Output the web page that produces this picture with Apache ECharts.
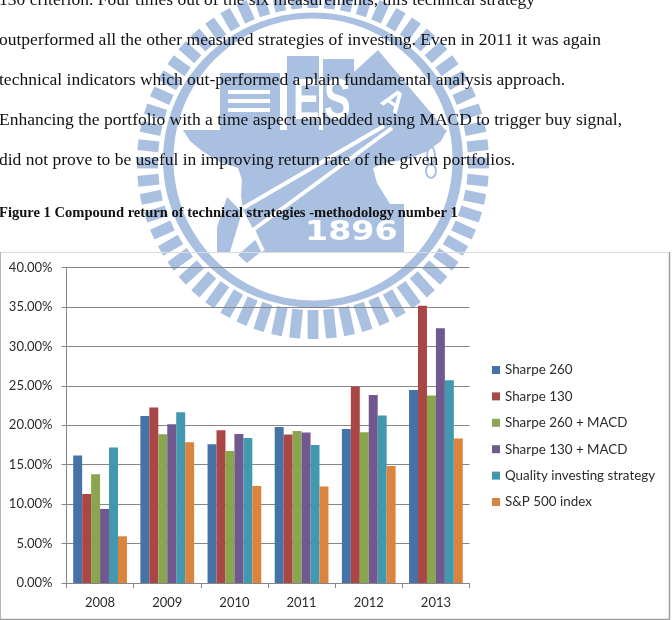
<!DOCTYPE html>
<html>
<head>
<meta charset="utf-8">
<style>html,body{margin:0;padding:0;background:#fff}#chart{width:672px;height:620px}</style>
<script src="https://cdn.jsdelivr.net/npm/echarts@6/dist/echarts.min.js"></script>
</head>
<body>
<div id="chart"></div>
<script>
// Compound return per year, in percent
const years = ['2008', '2009', '2010', '2011', '2012', '2013'];
const sharpe260 = [16.15, 21.18, 17.59, 19.79, 19.53, 24.48];
const sharpe130 = [11.29, 22.24, 19.37, 18.82, 24.90, 35.14];
const sharpe260Macd = [13.78, 18.86, 16.74, 19.28, 19.11, 23.76];
const sharpe130Macd = [9.39, 20.13, 18.90, 19.07, 23.85, 32.30];
const qualityInvesting = [17.17, 21.65, 18.39, 17.50, 21.23, 25.71];
const sp500 = [5.92, 17.84, 12.30, 12.22, 14.84, 18.31];

const seriesList = [
  ['Sharpe 260', sharpe260, '#4572A7'],
  ['Sharpe 130', sharpe130, '#AA4643'],
  ['Sharpe 260 + MACD', sharpe260Macd, '#89A54E'],
  ['Sharpe 130 + MACD', sharpe130Macd, '#71588F'],
  ['Quality investing strategy', qualityInvesting, '#4198AF'],
  ['S&P 500 index', sp500, '#DB843D']
];

const paragraph = [
  '130 criterion. Four times out of the six measurements, this technical strategy',
  'outperformed all the other measured strategies of investing. Even in 2011 it was again',
  'technical indicators which out-performed a plain fundamental analysis approach.',
  'Enhancing the portfolio with a time aspect embedded using MACD to trigger buy signal,',
  'did not prove to be useful in improving return rate of the given portfolios.'
];
const caption = 'Figure 1 Compound return of technical strategies -methodology number 1';

const SEAL = '#A9C0E1';
const cx = 313, cy = 163;

function poly(points, fill, z) {
  return { type: 'polygon', z: z, silent: true, shape: { points: points }, style: { fill: fill } };
}
function stripe(x1, y1, x2, y2, w) {
  return { type: 'line', z: -8, silent: true, shape: { x1, y1, x2, y2 }, style: { stroke: '#fff', lineWidth: w } };
}
function sealText(text, x, y, size, family, sx, sy, rot, fill) {
  return {
    type: 'text', z: -7, silent: true, x: x, y: y, scaleX: sx, scaleY: sy, rotation: rot || 0,
    style: { text: text, x: 0, y: 0, fill: fill || '#fff', font: 'bold ' + size + 'px ' + family, textAlign: 'left', textVerticalAlign: 'middle' }
  };
}

// University seal that sits behind the page
function seal() {
  const out = [];
  const teeth = 60;
  for (let i = 0; i < teeth; i++) {
    const a = Math.PI * 2 * i / teeth;
    const c = Math.cos(a), s = Math.sin(a);
    const lower = Math.max(0, s);
    const hw = 5.4, r0 = 155 - 8 * lower * lower, r1 = 176;
    out.push(poly([
      [cx + c * r0 - s * hw, cy + s * r0 + c * hw],
      [cx + c * r1 - s * hw, cy + s * r1 + c * hw],
      [cx + c * r1 + s * hw, cy + s * r1 - c * hw],
      [cx + c * r0 + s * hw, cy + s * r0 - c * hw]
    ], SEAL, -10));
  }
  // Ring band
  out.push({ type: 'ellipse', z: -10, silent: true, shape: { cx: 313, cy: 160, rx: 150, ry: 147.5 }, style: { fill: SEAL } });
  out.push({ type: 'ellipse', z: -10, silent: true, shape: { cx: 313, cy: 159.5, rx: 139.5, ry: 141 }, style: { fill: '#fff' } });

  // Book, towers and roof
  out.push(poly([[220, 73], [280, 73], [280, 131], [220, 131]], SEAL, -9));
  out.push(poly([[287, 56], [319, 56], [319, 131], [287, 131]], SEAL, -9));
  out.push(poly([[323, 59], [354, 59], [354, 131], [323, 131]], SEAL, -9));
  out.push(poly([[354, 72], [378, 50], [447, 132], [354, 132]], SEAL, -9));
  [90, 99, 108].forEach(function (y) {
    out.push(poly([[228, y], [270, y], [270, y + 4], [228, y + 4]], '#fff', -8));
  });

  // Anvil with the block underneath
  out.push(poly([
    [183, 130], [447, 130], [441, 141], [428, 151], [408, 159], [385, 163], [373, 168],
    [377, 183], [390, 204], [404, 204], [404, 252], [263, 252], [253, 229], [243, 210],
    [241, 195], [242, 180], [238, 168], [220, 162], [202, 151], [190, 141]
  ], SEAL, -9));
  out.push(poly([[217, 227], [227, 197], [242, 212], [230, 252], [217, 252]], SEAL, -9));
  out.push(poly([[238, 255], [255, 240], [263, 250], [247, 263]], SEAL, -9));

  // Hammer handle
  out.push(stripe(384, 126, 243, 208, 4));
  out.push(stripe(392, 128, 253, 230, 4));
  out.push(stripe(253, 230, 263, 251, 4));

  out.push(sealText('E', 293, 103, 40, '"Liberation Sans"', 1, 1.45));
  out.push(sealText('S', 324, 103, 40, '"Liberation Sans"', 1, 1.45));
  out.push(sealText('A', 384, 96, 30, '"Liberation Sans"', 1, 1, -0.6));
  out.push(sealText('1896', 305, 233, 26, '"DejaVu Sans"', 1.28, 1));

  // Small numeral on the anvil's right side
  out.push({ type: 'ellipse', z: -9, silent: true, shape: { cx: 431, cy: 156, rx: 4, ry: 9 }, style: { fill: 'none', stroke: SEAL, lineWidth: 2 } });
  out.push({ type: 'ellipse', z: -9, silent: true, shape: { cx: 431, cy: 171, rx: 5, ry: 7 }, style: { fill: 'none', stroke: SEAL, lineWidth: 2 } });
  return out;
}

function pageText() {
  const out = paragraph.map(function (line, i) {
    return {
      type: 'text', z: 10, silent: true,
      style: { text: line, x: -1, y: i * 40, fill: '#111', font: '17.5px "Liberation Serif"', textAlign: 'left', textVerticalAlign: 'middle' }
    };
  });
  out.push({
    type: 'text', z: 10, silent: true,
    style: { text: caption, x: -1, y: 213.5, fill: '#111', font: 'bold 14.55px "Liberation Serif"', textAlign: 'left', textVerticalAlign: 'middle' }
  });
  return out;
}

function frame() {
  const line = function (x1, y1, x2, y2, color, w) {
    return { type: 'line', z: 1, silent: true, shape: { x1, y1, x2, y2 }, style: { stroke: color, lineWidth: w } };
  };
  return [
    line(0, 252.5, 669, 252.5, '#DADADA', 1),
    line(0.5, 252, 0.5, 620, '#B5B5B5', 1),
    line(669.5, 252, 669.5, 620, '#A0A0A0', 1.5),
    line(0, 619.5, 670, 619.5, '#A0A0A0', 1.5)
  ];
}

const chart = echarts.init(document.getElementById('chart'), null, { renderer: 'canvas' });
const labelStyle = { fontFamily: 'Lato', fontSize: 13, color: '#2b2b2b' };
chart.setOption({
  animation: false,
  backgroundColor: '#fff',
  graphic: { elements: seal().concat(frame(), pageText()) },
  legend: {
    orient: 'vertical',
    left: 487,
    top: 358,
    itemWidth: 8,
    itemHeight: 8,
    itemGap: 12.4,
    icon: 'rect',
    selectedMode: false,
    textStyle: Object.assign({}, labelStyle, { fontSize: 13.4, height: 14, lineHeight: 14 }),
    data: seriesList.map(function (s) { return s[0]; })
  },
  grid: { left: 66.5, top: 267.5, width: 403, height: 315.5, containLabel: false },
  xAxis: {
    type: 'category',
    data: years,
    axisLine: { lineStyle: { color: '#868686', width: 1 } },
    axisTick: { show: true, length: 5, alignWithLabel: false, lineStyle: { color: '#868686' } },
    axisLabel: Object.assign({ margin: 13 }, labelStyle),
    splitLine: { show: false }
  },
  yAxis: {
    type: 'value',
    min: 0,
    max: 40,
    interval: 5,
    axisLine: { show: true, lineStyle: { color: '#868686', width: 1 } },
    axisTick: { show: true, length: 5, lineStyle: { color: '#868686' } },
    axisLabel: Object.assign({ margin: 14, formatter: function (v) { return v.toFixed(2) + '%'; } }, labelStyle),
    splitLine: { show: true, lineStyle: { color: '#868686', width: 1 } }
  },
  series: seriesList.map(function (s) {
    return {
      name: s[0],
      type: 'bar',
      data: s[1],
      barGap: 0,
      barCategoryGap: '20%',
      itemStyle: { color: s[2] },
      emphasis: { disabled: true }
    };
  })
});
</script>
</body>
</html>
